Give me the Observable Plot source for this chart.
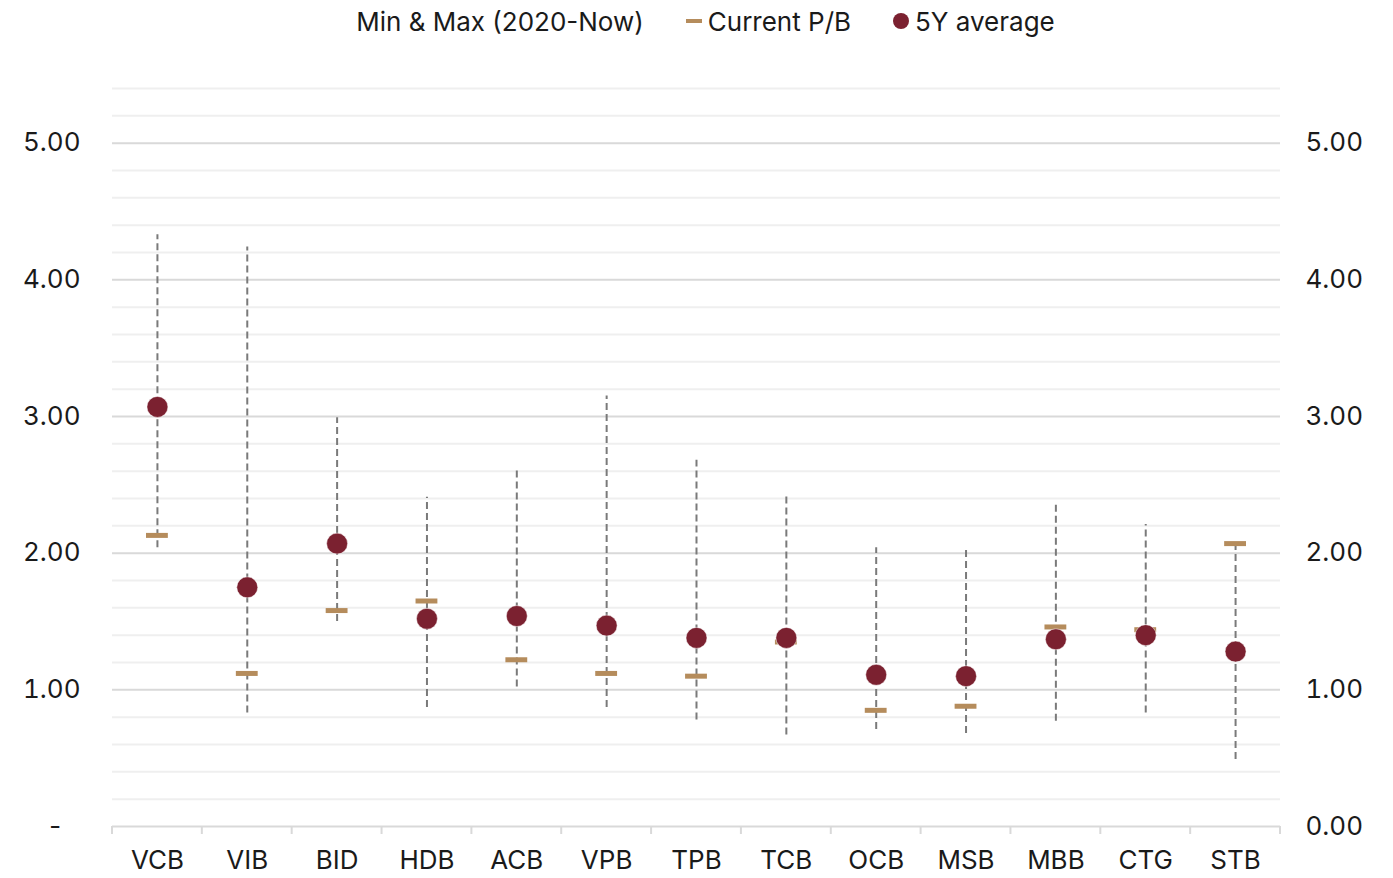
<!DOCTYPE html>
<html>
<head>
<meta charset="utf-8">
<script src="https://cdn.jsdelivr.net/npm/d3@7"></script>
<script src="https://cdn.jsdelivr.net/npm/@observablehq/plot@0.6"></script>
<style>
  html, body { margin: 0; padding: 0; background: #fff; }
  body { width: 1393px; height: 878px; overflow: hidden; font-family: Inter, "Noto Sans", sans-serif; }
  #legend { height: 42px; display: flex; align-items: center; justify-content: center; font-size: 26px; color: #1a1a1a; padding-left: 18px; box-sizing: border-box; }
  .item { display: flex; align-items: center; margin: 0 21px; }
  .dash { width: 16px; height: 4px; background: #b58c5c; margin-right: 6px; }
  .dot { width: 16px; height: 16px; border-radius: 50%; background: #7b2130; margin-right: 6px; }
  svg { display: block; }
</style>
</head>
<body>
<div id="legend">
  <div class="item">Min &amp; Max (2020-Now)</div>
  <div class="item"><span class="dash"></span>Current P/B</div>
  <div class="item"><span class="dot"></span>5Y average</div>
</div>
<div id="chart"></div>
<script>
const banks   = ["VCB","VIB","BID","HDB","ACB","VPB","TPB","TCB","OCB","MSB","MBB","CTG","STB"];
const minPB   = [2.04, 0.83, 1.50, 0.87, 1.02, 0.87, 0.78, 0.67, 0.71, 0.68, 0.77, 0.83, 0.49];
const maxPB   = [4.33, 4.24, 2.99, 2.41, 2.61, 3.15, 2.68, 2.44, 2.04, 2.04, 2.36, 2.21, 2.06];
const current = [2.13, 1.12, 1.58, 1.65, 1.22, 1.12, 1.10, 1.35, 0.85, 0.88, 1.46, 1.44, 2.07];
const avg5y   = [3.07, 1.75, 2.07, 1.52, 1.54, 1.47, 1.38, 1.38, 1.11, 1.10, 1.37, 1.40, 1.28];
const majorTicks = [0, 1, 2, 3, 4, 5];
const minorTicks = [0.2,0.4,0.6,0.8,1.2,1.4,1.6,1.8,2.2,2.4,2.6,2.8,3.2,3.4,3.6,3.8,4.2,4.4,4.6,4.8,5.2,5.4];

const data = banks.map((b, i) => ({bank: b, min: minPB[i], max: maxPB[i], cur: current[i], avg: avg5y[i]}));

// band boundary tick marks under the x axis, computed from Plot's band scale
function boundaryTicks(index, scales, values, dims) {
  const g = d3.create("svg:g");
  const x = scales.x, y0 = scales.y(0), bw = x.bandwidth ? x.bandwidth() : 0;
  const xs = banks.map(b => x(b));
  xs.push(x(banks[banks.length - 1]) + bw);
  for (const px of xs) {
    g.append("line").attr("x1", px).attr("x2", px).attr("y1", y0).attr("y2", y0 + 8)
      .attr("stroke", "#d9d9d9").attr("stroke-width", 2);
  }
  return g.node();
}

const chart = Plot.plot({
  width: 1393,
  height: 836,
  marginTop: 46,
  marginBottom: 52,
  marginLeft: 112,
  marginRight: 113,
  style: {fontFamily: "Inter, 'Noto Sans', sans-serif", fontSize: "26px", color: "#1a1a1a", background: "#fff"},
  x: {domain: banks, padding: 0, round: false, label: null},
  y: {domain: [0, 5.4], label: null},
  marks: [
    Plot.ruleY(minorTicks, {stroke: "#efefef", strokeWidth: 2}),
    Plot.ruleY([1,2,3,4,5], {stroke: "#d9d9d9", strokeWidth: 2}),
    Plot.ruleY([0], {stroke: "#d9d9d9", strokeWidth: 2}),
    boundaryTicks,
    Plot.axisY(majorTicks, {anchor: "left", tickSize: 0, tickPadding: 32, tickFormat: d => d === 0 ? "-\u2007" : d.toFixed(2), label: null}),
    Plot.axisY(majorTicks, {anchor: "right", tickSize: 0, tickPadding: 25, tickFormat: d => d.toFixed(2), label: null}),
    Plot.axisX({tickSize: 0, tickPadding: 24, label: null}),
    Plot.ruleX(data, {x: "bank", y1: "min", y2: "max", stroke: "#7a7a7a", strokeWidth: 2, strokeDasharray: "7,4"}),
    Plot.tickY(data, {x: "bank", y: "cur", stroke: "#b58c5c", strokeWidth: 5, insetLeft: 34, insetRight: 34}),
    Plot.dot(data, {x: "bank", y: "avg", r: 10.5, fill: "#7b2130", stroke: "#fff", strokeWidth: 0.5})
  ]
});
document.getElementById("chart").append(chart);
</script>
</body>
</html>
